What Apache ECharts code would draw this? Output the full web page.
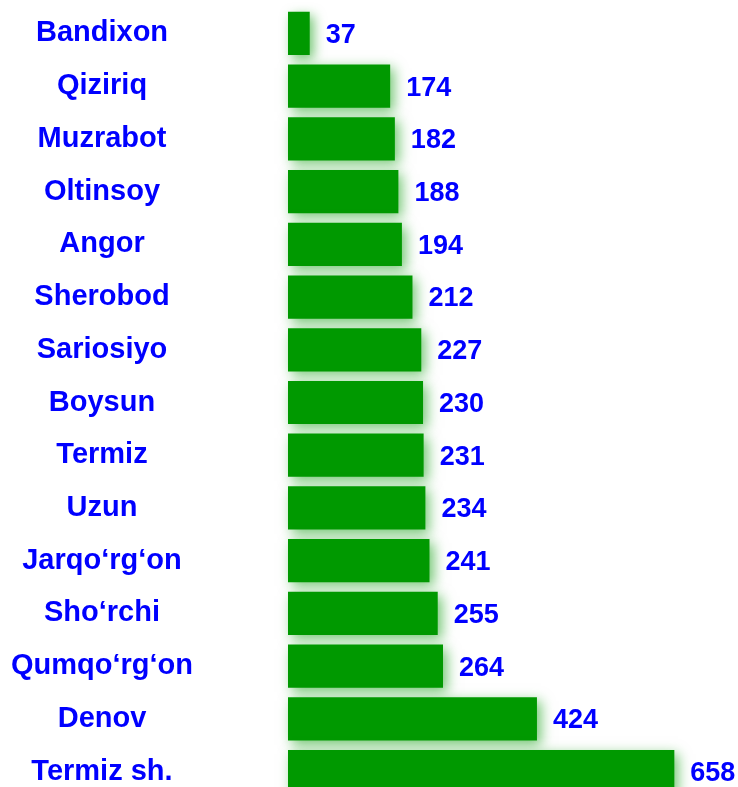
<!DOCTYPE html>
<html>
<head>
<meta charset="utf-8">
<script src="https://cdn.jsdelivr.net/npm/echarts@6/dist/echarts.min.js"></script>
<style>
html,body{margin:0;padding:0;background:#fff;}
#chart{width:738px;height:787px;}
</style>
</head>
<body>
<div id="chart"></div>
<script>
const categories = ["Bandixon","Qiziriq","Muzrabot","Oltinsoy","Angor","Sherobod","Sariosiyo","Boysun","Termiz","Uzun","Jarqo\u2018rg\u2018on","Sho\u2018rchi","Qumqo\u2018rg\u2018on","Denov","Termiz sh."];
const values = [37,174,182,188,194,212,227,230,231,234,241,255,264,424,658];

const chart = echarts.init(document.getElementById('chart'), null, {renderer:'canvas'});
const font = "Liberation Sans";
chart.setOption({
  animation:false,
  backgroundColor:'#ffffff',
  grid:{left:288, top:7, width:411, height:791, containLabel:false, outerBoundsMode:'none'},
  xAxis:{type:'value', min:0, max:700, show:false},
  yAxis:{
    type:'category', data:categories, inverse:true,
    axisLine:{show:false}, axisTick:{show:false}, splitLine:{show:false},
    axisLabel:{align:'center', margin:186, color:'#0000ff', fontWeight:'bold', fontSize:29, fontFamily:font, padding:[0,0,3,0]}
  },
  series:[{
    type:'bar', data:values, barCategoryGap:'18%',
    itemStyle:{color:'#009900', shadowColor:'rgba(0,153,0,0.55)', shadowBlur:12, shadowOffsetX:4, shadowOffsetY:4},
    label:{show:true, position:'right', distance:16, offset:[0,2], color:'#0000ff', fontWeight:'bold', fontSize:27, fontFamily:font}
  }]
});
</script>
</body>
</html>
